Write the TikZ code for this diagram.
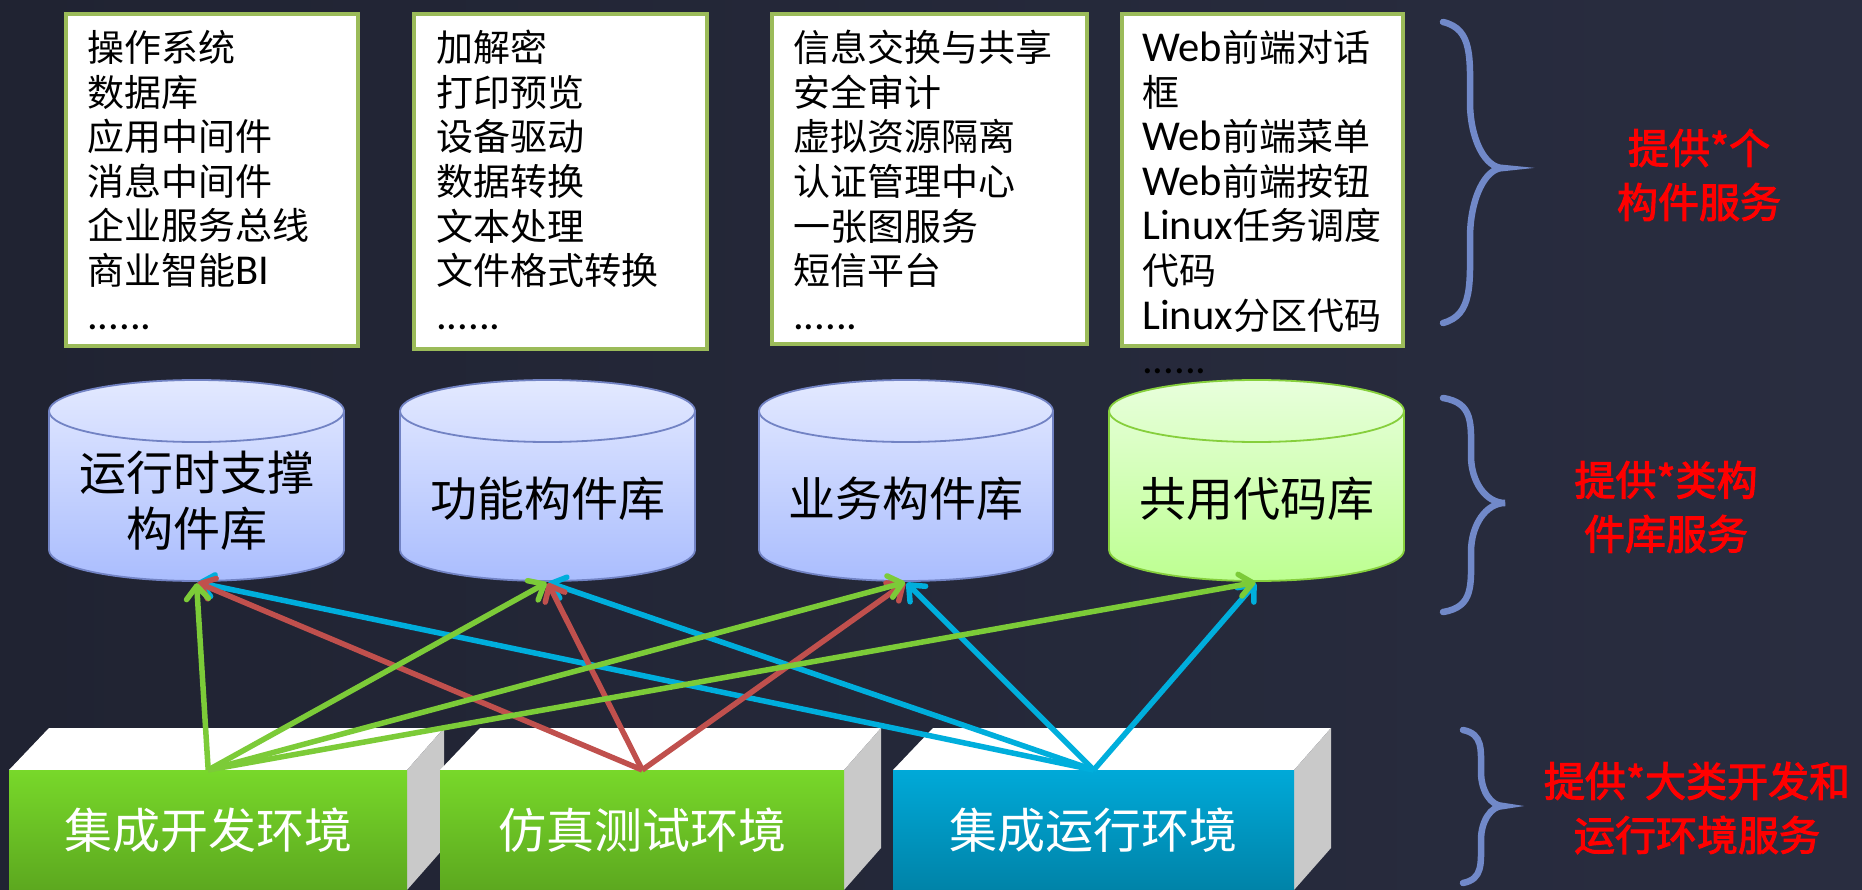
\documentclass[tikz,border=0pt]{standalone}
\usepackage{fontspec}
\setmainfont[AutoFakeBold=2.5]{Noto Sans CJK SC}
\newfontfamily\lat[Scale=1.15]{Carlito}
\usetikzlibrary{arrows.meta}
\definecolor{bgA}{HTML}{202332}
\definecolor{bgB}{HTML}{2E3247}
\definecolor{bgC}{HTML}{292D40}
\definecolor{boxgreen}{HTML}{9BBB59}
\definecolor{cylTop}{HTML}{E3E9FF}
\definecolor{cylBot}{HTML}{AABDFE}
\definecolor{cylEdge}{HTML}{7283C4}
\definecolor{gcylTop}{HTML}{E8FFDC}
\definecolor{gcylBot}{HTML}{BDFF91}
\definecolor{gcylEdge}{HTML}{86CF3C}
\definecolor{envGa}{HTML}{78D82A}
\definecolor{envGb}{HTML}{5CA81F}
\definecolor{envBa}{HTML}{00A9D8}
\definecolor{envBb}{HTML}{0083A8}
\definecolor{sideGrey}{HTML}{C9C9C9}
\definecolor{arG}{HTML}{7CCB38}
\definecolor{arR}{HTML}{C0504D}
\definecolor{arB}{HTML}{00AEDC}
\definecolor{braceCol}{HTML}{7189C9}
\definecolor{labCol}{HTML}{FF0000}
\tikzset{
  listbox/.style={draw=boxgreen, line width=4, fill=white, anchor=north west, inner sep=0},
  listtext/.style={anchor=north west, inner sep=0, align=left, text=black,
    font=\fontsize{37}{44.6}\selectfont},
  cylarea/.style={draw=none, inner sep=0, minimum height=202},
  cyltext/.style={align=center, text=black, inner sep=0, font=\fontsize{47}{56}\selectfont},
  envbox/.style={inner sep=0, minimum height=120, text=white, anchor=north west,
    font=\fontsize{48}{56}\selectfont},
  conn/.style={line width=5.5, shorten >=1, -{Straight Barb[length=13, width=22, line width=5.5, round]}},
  bracestyle/.style={draw=braceCol, line width=6.5, line cap=round},
  labeltext/.style={align=center, text=labCol, inner sep=0, font=\fontsize{41}{54}\selectfont\bfseries}
}
\newcommand{\cylbody}[5]{% xl xr topc botc colour-prefix
  \pgfmathsetmacro{\rx}{(#2-#1)/2}
  \shade[top color=#5Top, bottom color=#5Bot, draw=#5Edge, line width=1.8]
    (#1,#3) -- (#1,#4) arc[start angle=180, end angle=0, x radius=\rx, y radius=31]
    -- (#2,#3) arc[start angle=0, end angle=-180, x radius=\rx, y radius=31] -- cycle;
  \draw[draw=#5Edge, line width=1.8] (#1,#3) arc[start angle=180, end angle=0, x radius=\rx, y radius=31];
}
\newcommand{\boxsides}[3]{% xl xr top
  \fill[white] (#1,#3) -- ({#1+40},{#3-42}) -- ({#2+37},{#3-42}) -- (#2,#3) -- cycle;
  \fill[sideGrey] (#2,#3) -- ({#2+37},{#3-42}) -- ({#2+37},848) -- (#2,890) -- cycle;
}
\begin{document}
\begin{tikzpicture}[x=1pt, y=-1pt]
\useasboundingbox (0,0) rectangle (1862,890);
\shade[left color=bgA, middle color=bgB, right color=bgC] (0,0) rectangle (1862,890);

% top list boxes
\node[listbox, minimum width=292, minimum height=332] (b1) at (64,12) {};
\node[listbox, minimum width=293, minimum height=335] (b2) at (412,12) {};
\node[listbox, minimum width=315, minimum height=330] (b3) at (770,12) {};
\node[listbox, minimum width=281, minimum height=332] (b4) at (1120,12) {};

\node[listtext] (t1) at (87,30) {操作系统\\数据库\\应用中间件\\消息中间件\\企业服务总线\\商业智能{\lat BI}\\{\lat ......}};
\node[listtext] (t2) at (436,30) {加解密\\打印预览\\设备驱动\\数据转换\\文本处理\\文件格式转换\\{\lat ......}};
\node[listtext] (t3) at (793,30) {信息交换与共享\\安全审计\\虚拟资源隔离\\认证管理中心\\一张图服务\\短信平台\\{\lat ......}};
\node[listtext] (t4) at (1142,30) {{\lat Web}前端对话\\框\\{\lat Web}前端菜单\\{\lat Web}前端按钮\\{\lat Linux}任务调度\\代码\\{\lat Linux}分区代码\\{\lat ......}};

% cylinders
\cylbody{49}{344}{411}{550}{cyl}
\cylbody{400}{695}{411}{550}{cyl}
\cylbody{759}{1053}{411}{550}{cyl}
\cylbody{1109}{1404}{411}{550}{gcyl}
\node[cylarea, minimum width=295] (c1) at (196.5,481) {};
\node[cylarea, minimum width=295] (c2) at (547.5,481) {};
\node[cylarea, minimum width=294] (c3) at (906,481) {};
\node[cylarea, minimum width=295] (c4) at (1256.5,481) {};
\node[cyltext] (c1t) at (196.5,501) {运行时支撑\\构件库};
\node[cyltext] (c2t) at (547.5,499) {功能构件库};
\node[cyltext] (c3t) at (906,499) {业务构件库};
\node[cyltext] (c4t) at (1256.5,499) {共用代码库};

% environment boxes
\boxsides{9}{407}{770}
\node[envbox, minimum width=398, top color=envGa, bottom color=envGb] (ea) at (9,770) {集成开发环境};
\boxsides{440}{844}{770}
\node[envbox, minimum width=404, top color=envGa, bottom color=envGb] (eb) at (440,770) {仿真测试环境};
\boxsides{893}{1294}{770}
\node[envbox, minimum width=401, top color=envBa, bottom color=envBb] (ec) at (893,770) {集成运行环境};

% connectors
\draw[conn, arB] (ec.north) -- (c1.south);
\draw[conn, arB] (ec.north) -- (c2.south);
\draw[conn, arB] (ec.north) -- (c3.south);
\draw[conn, arB] (ec.north) -- (c4.south);
\draw[conn, arR] (eb.north) -- (c1.south);
\draw[conn, arR] (eb.north) -- (c2.south);
\draw[conn, arR] (eb.north) -- (c3.south);
\draw[conn, arG] (ea.north) -- (c1.south);
\draw[conn, arG] (ea.north) -- (c2.south);
\draw[conn, arG] (ea.north) -- (c3.south);
\draw[conn, arG] (ea.north) -- (c4.south);

% braces
\draw[bracestyle] (1443,22) .. controls (1473,29) and (1470,58) .. (1470,102)
  .. controls (1470,139) and (1485,168) .. (1503,168)
  .. controls (1485,168) and (1470,199) .. (1470,238)
  .. controls (1470,284) and (1473,315) .. (1443,323);
\draw[bracestyle] (1443,398) .. controls (1474,403) and (1471,424) .. (1471,456)
  .. controls (1471,482) and (1486,503) .. (1505,503)
  .. controls (1486,503) and (1471,525) .. (1471,552)
  .. controls (1471,585) and (1474,607) .. (1443,612);
\draw[bracestyle] (1463,730) .. controls (1483,734) and (1481,749) .. (1481,772)
  .. controls (1481,791) and (1491,806) .. (1503,806)
  .. controls (1491,806) and (1481,821) .. (1481,840)
  .. controls (1481,864) and (1483,879) .. (1463,883);

% labels
\node[labeltext] (l1) at (1699,175) {提供*个\\构件服务};
\node[labeltext] (l2) at (1666,507) {提供*类构\\件库服务};
\node[labeltext] (l3) at (1697,808) {提供*大类开发和\\运行环境服务};
\end{tikzpicture}
\end{document}
